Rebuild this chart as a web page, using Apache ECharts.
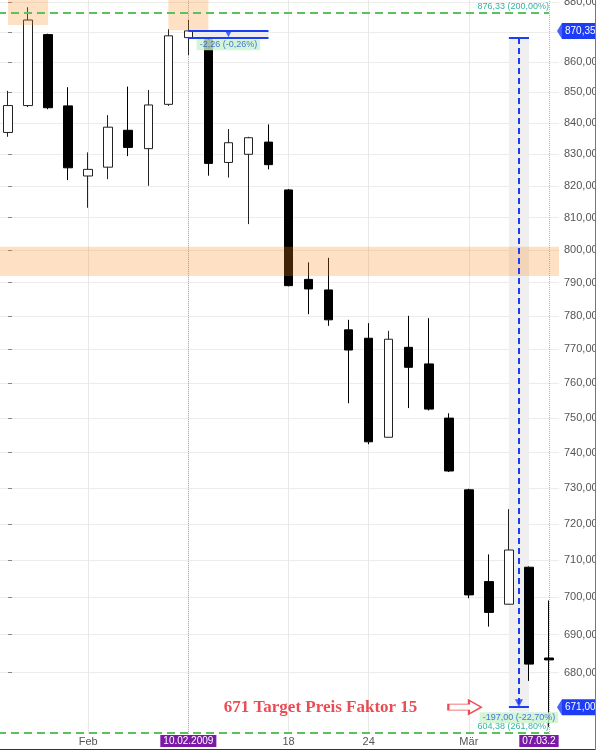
<!DOCTYPE html>
<html><head><meta charset="utf-8">
<script src="https://cdn.jsdelivr.net/npm/echarts@6/dist/echarts.min.js"></script>
<style>html,body{margin:0;padding:0;background:#fff}#c{width:596px;height:750px}</style>
</head><body><div id="c"></div>
<script>
// ---- data ----
const categories = ['27.01.2009','28.01.2009','29.01.2009','30.01.2009','02.02.2009','03.02.2009','04.02.2009','05.02.2009','06.02.2009','10.02.2009',
  '11.02.2009','12.02.2009','13.02.2009','17.02.2009','18.02.2009','19.02.2009','20.02.2009','23.02.2009','24.02.2009','25.02.2009',
  '26.02.2009','27.02.2009','28.02.2009','02.03.2009','03.03.2009','04.03.2009','05.03.2009','07.03.2009'];
const opens  = [837.0,845.7,869.1,845.6,823.1,825.9,837.7,831.8,846.1,868.1, 867.3,827.4,830.0,833.9,818.7,791.0,787.8,775.8,773.3,744.4, 770.6,765.7,749.9,729.5,704.2,698.1,708.1,683.8];
const closes = [845.7,874.0,845.0,825.7,825.2,838.7,832.2,845.9,868.7,870.35,827.1,833.7,835.3,826.7,789.1,788.1,778.8,769.8,743.1,773.0, 764.7,752.5,734.8,700.6,695.9,712.8,682.2,683.3];
const lows   = [835.6,845.2,844.5,821.8,813.1,822.1,829.4,820.0,845.6,862.3, 823.2,822.6,808.0,825.2,788.9,780.5,777.0,754.2,742.4,744.4, 752.8,752.1,734.5,699.7,692.1,698.0,677.8,665.9];
const highs  = [850.5,878.3,869.4,851.7,830.6,842.6,851.9,850.8,870.9,874.0, 868.0,838.1,835.6,839.6,819.0,796.2,797.6,778.8,777.8,775.5, 780.0,779.3,751.3,729.8,711.6,724.1,708.3,699.1];

const xLabelIndex = [4, 9, 14, 18, 23, 27];
const xLabelText  = ['Feb', '10.02.2009', '18', '24', 'Mär', '07.03.2'];
const xLabelBoxed = [false, true, false, false, false, true];
const xGridIndex  = [4, 9, 14, 18, 23];
const markedDays  = [9, 27];

const yTicks = [680,690,700,710,720,730,740,750,760,770,780,790,800,810,820,830,840,850,860,870,880];
const yMin = 664.1, yMax = 880.75;

const fibLevels = [876.33, 604.38];
const fibLabels = ['876,33 (200,00%)', '604,38 (261,80%)'];
const priceMarks = [870.35, 671.00];
const bandLow = 792, bandHigh = 801;
const zoneFrom = [0, 8], zoneTo = [2, 10], zoneLow = [872.3, 870.6];

const measureA = {x0: 9, x1: 13, from: 870.35, to: 868.09, label: '-2,26 (-0,26%)'};
const measureB = {x0: 25, x1: 26, from: 868.00, to: 671.00, label: '-197,00 (-22,70%)', bandBottom: 669.8};
const targetValue = 671;
const targetText = '671 Target Preis Faktor 15';
const targetTextX = 15.6, targetArrowX = 22.8;

// ---- chart ----
const fmt = v => Number(v).toFixed(2).replace('.', ',');
const candles = categories.map((c, i) => [opens[i], closes[i], lows[i], highs[i]]);
const blue = '#1c3cf6';
const midB = (measureB.x0 + measureB.x1) / 2;
const midA = (measureA.x0 + measureA.x1) / 2;

const chart = echarts.init(document.getElementById('c'), null, {renderer: 'canvas'});
chart.setOption({
  animation: false,
  backgroundColor: '#fff',
  textStyle: {fontFamily: 'Liberation Sans, Arial, sans-serif'},
  grid: {left: -2, right: 37, top: 0, bottom: 16, containLabel: false, outerBoundsMode: 'none'},
  xAxis: [{
    type: 'category', data: categories, boundaryGap: true,
    axisLine: {show: false}, axisTick: {show: false}, splitLine: {show: false},
    axisLabel: {
      interval: (i) => xLabelIndex.includes(i),
      margin: 1,
      formatter: (v, i) => {
        const k = xLabelIndex.indexOf(i);
        if (k < 0) return '';
        return xLabelBoxed[k] ? (i === 27 ? '{p|' + xLabelText[k] + '}{s|}' : '{p|' + xLabelText[k] + '}') : '{n|' + xLabelText[k] + '}';
      },
      rich: {
        n: {fontSize: 11, color: '#555', lineHeight: 14},
        p: {fontSize: 10, color: '#fff', backgroundColor: '#7a1aa5', padding: [1, 3, 1, 3], lineHeight: 12},
        s: {width: 20}
      }
    }
  }, {
    type: 'value', min: -0.5, max: 27.5, show: false
  }],
  yAxis: {
    type: 'log', logBase: 10, min: yMin, max: yMax, position: 'right', offset: -2,
    axisLine: {show: false},
    axisTick: {show: true, length: 4, customValues: yTicks, lineStyle: {color: '#888'}},
    axisLabel: {customValues: yTicks, formatter: v => fmt(v), fontSize: 11, color: '#555', margin: 7},
    splitLine: {show: true, lineStyle: {color: '#ececec', width: 1}}
  },
  series: [
    { // background annotations
      type: 'line', xAxisIndex: 1, data: [], z: 1, silent: true,
      markLine: {
        silent: true, z: 1, symbol: ['none', 'none'], label: {show: false},
        data: xGridIndex.map(i => ({xAxis: i, lineStyle: {color: '#e8e8e8', width: 1, type: 'solid'}}))
          .concat(markedDays.map(i => ({xAxis: i, lineStyle: {color: '#c99fe6', width: 1, type: 'dotted'}})))
      },
      markArea: {
        silent: true, z: 1,
        data: [
          [{coord: [measureB.x0, measureB.from], itemStyle: {color: '#efefef'}}, {coord: [measureB.x1, measureB.bandBottom]}],
          [{coord: [measureA.x0, measureA.from], itemStyle: {color: '#ececec'}}, {coord: [measureA.x1, measureA.to]}]
        ]
      }
    },
    {
      type: 'candlestick', xAxisIndex: 0, data: candles, barWidth: 9, z: 2,
      itemStyle: {color: '#fff', color0: '#000', borderColor: '#222', borderColor0: '#000', borderWidth: 1}
    },
    { // foreground annotations
      type: 'line', xAxisIndex: 1, data: [], z: 3, silent: true,
      markArea: {
        silent: true, z: 3,
        itemStyle: {color: 'rgba(250,140,30,0.26)'},
        data: [[{yAxis: bandLow}, {yAxis: bandHigh}]].concat(
          zoneFrom.map((x, k) => [{coord: [x, zoneLow[k]]}, {coord: [zoneTo[k], yMax]}]))
      },
      markLine: {
        silent: true, z: 4, symbol: ['none', 'none'],
        data: [
          [{coord: [-0.5, fibLevels[0]], lineStyle: {color: '#5cc05c', width: 2, type: [8, 5]},
            label: {show: true, position: 'insideEndTop', formatter: fibLabels[0], color: '#33b3a0', fontSize: 9, distance: [0, 2]}},
           {coord: [27, fibLevels[0]]}],
          [{coord: [-0.5, Math.max(fibLevels[1], yMin + 0.2)], lineStyle: {color: '#5cc05c', width: 2, type: [8, 5]},
            label: {show: true, position: 'insideEndTop', formatter: fibLabels[1], color: '#33b3a0', fontSize: 9, distance: [0, 2]}},
           {coord: [27, Math.max(fibLevels[1], yMin + 0.2)]}],
          // measure B
          [{coord: [midB, measureB.from], lineStyle: {color: blue, width: 2, type: [6, 4]}, label: {show: false}}, {coord: [midB, measureB.to]}],
          [{coord: [measureB.x0, measureB.from], lineStyle: {color: blue, width: 2, type: 'solid'}, label: {show: false}}, {coord: [measureB.x1, measureB.from]}],
          [{coord: [measureB.x0, measureB.to], lineStyle: {color: blue, width: 2, type: 'solid'}, label: {show: false}}, {coord: [measureB.x1, measureB.to]}],
          // measure A
          [{coord: [measureA.x0, measureA.from], lineStyle: {color: blue, width: 2, type: 'solid'}, label: {show: false}}, {coord: [measureA.x1, measureA.from]}],
          [{coord: [measureA.x0, measureA.to], lineStyle: {color: blue, width: 2, type: 'solid'}, label: {show: false}}, {coord: [measureA.x1, measureA.to]}],
          // price labels on axis
          ...priceMarks.map(v => ({yAxis: v, lineStyle: {color: 'rgba(0,0,0,0)', width: 0},
            label: {show: true, position: 'end', formatter: fmt(v), color: '#fff', fontSize: 10,
              backgroundColor: blue, padding: [3, 2, 3, 3], distance: 3}}))
        ]
      }
    },
    { // arrows and text annotations
      type: 'scatter', xAxisIndex: 1, z: 5, silent: true, clip: false,
      data: [
        {value: [midB, measureB.to], symbol: 'triangle', symbolSize: 8, symbolRotate: 180, symbolOffset: [0, -4], itemStyle: {color: blue},
         label: {show: true, position: 'bottom', distance: 5, formatter: measureB.label, color: '#2456d6', fontSize: 9, backgroundColor: '#c9f2cc', padding: [1, 3, 1, 3]}},
        {value: [midA, measureA.to], symbol: 'triangle', symbolSize: 7, symbolRotate: 180, symbolOffset: [0, -4], itemStyle: {color: blue},
         label: {show: true, position: 'bottom', distance: 2, formatter: measureA.label, color: '#2456d6', fontSize: 9, backgroundColor: '#c9f2cc', padding: [1, 3, 1, 3]}},
        {value: [targetTextX, targetValue], symbolSize: 0,
         label: {show: true, position: 'inside', formatter: targetText, color: '#e61e25', fontSize: 17, fontWeight: 'bold', fontFamily: 'Liberation Serif, Times New Roman, serif'}},
        {value: [targetArrowX, targetValue], symbol: 'path://M0,4L20,4L20,0L32,7L20,14L20,10L0,10Z', symbolSize: [33, 14],
         itemStyle: {color: '#fff', borderColor: '#e61e25', borderWidth: 1.5}},
        ...priceMarks.map(v => ({value: [27.45, v], symbol: 'triangle', symbolSize: [16, 5], symbolRotate: 90, symbolOffset: [1.5, 0], itemStyle: {color: blue}}))
      ]
    }
  ],
  graphic: [
    {type: 'rect', shape: {x: 0, y: 749, width: 596, height: 1}, style: {fill: '#333'}, z: 100},
    {type: 'rect', shape: {x: 595, y: 0, width: 1, height: 750}, style: {fill: '#777'}, z: 100}
  ]
});
</script></body></html>
